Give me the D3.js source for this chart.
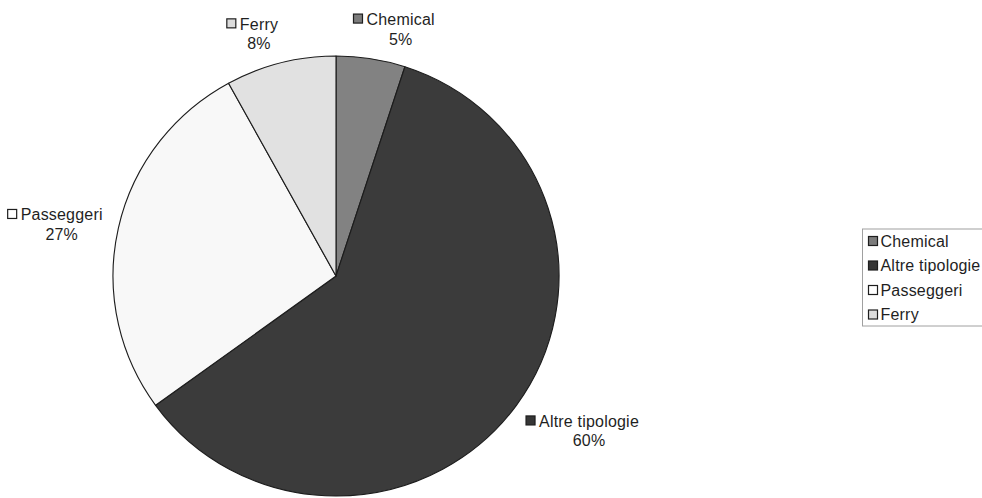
<!DOCTYPE html>
<html>
<head>
<meta charset="utf-8">
<script src="https://cdn.jsdelivr.net/npm/d3@7"></script>
<style>
  html, body { margin: 0; padding: 0; background: #ffffff; }
  svg { display: block; }
  text { font-family: "Liberation Sans", Arial, Helvetica, sans-serif; fill: #1f1f1f; }
</style>
</head>
<body>
<svg id="chart" width="982" height="498"></svg>
<script>
// Ship types and their share (%)
const categories = ["Chemical", "Altre tipologie", "Passeggeri", "Ferry"];
const shares = [5, 60, 27, 8];
const percentLabels = ["5%", "60%", "27%", "8%"];

const fills = {
  "Chemical": "#828282",
  "Altre tipologie": "#3b3b3b",
  "Passeggeri": "#f8f8f8",
  "Ferry": "#e1e1e1"
};
const swatchFills = {
  "Chemical": "#7c7c7c",
  "Altre tipologie": "#363636",
  "Passeggeri": "#ffffff",
  "Ferry": "#dcdcdc"
};

const svg = d3.select("#chart");
const cx = 336, cy = 276, radius = 220, stretchX = 223 / 220;
const fontSize = 16;

const data = categories.map((c, i) => ({ name: c, value: shares[i], pct: percentLabels[i] }));

const pie = d3.pie().value(d => d.value).sort(null).startAngle(0).endAngle(2 * Math.PI);
const arcs = pie(data);
const arc = d3.arc().innerRadius(0).outerRadius(radius);

const pieG = svg.append("g")
  .attr("transform", `translate(${cx},${cy}) scale(${stretchX},1)`);

pieG.selectAll("path.slice")
  .data(arcs)
  .join("path")
  .attr("class", "slice")
  .attr("d", arc)
  .attr("fill", d => fills[d.data.name])
  .attr("stroke", "#1c1c1c")
  .attr("stroke-width", 1.1)
  .attr("stroke-linejoin", "round");

// Data labels: name with swatch on the first line, percentage below
const labelArc = d3.arc().innerRadius(250).outerRadius(250);
const labelShift = {
  "Chemical": [25, 0],
  "Altre tipologie": [48, 8],
  "Passeggeri": [-27, 3],
  "Ferry": [-14, 0]
};
const swatch = 9, gap = 4, lineGap = 19.5;

arcs.forEach(a => {
  const [x0, y0] = labelArc.centroid(a);
  const s = labelShift[a.data.name];
  const lx = cx + x0 * stretchX + s[0];
  const ly = cy + y0 + s[1];
  const g = svg.append("g").attr("class", "data-label");
  const nameBase = ly - 4;
  const nameText = g.append("text")
    .attr("x", lx).attr("y", nameBase)
    .attr("text-anchor", "middle")
    .attr("font-size", fontSize)
    .attr("letter-spacing", "0.2px")
    .text(a.data.name);
  const tw = nameText.node().getComputedTextLength();
  g.append("rect")
    .attr("x", lx - tw / 2 - gap - swatch)
    .attr("y", nameBase - 11)
    .attr("width", swatch).attr("height", swatch)
    .attr("fill", swatchFills[a.data.name])
    .attr("stroke", "#1e1e1e").attr("stroke-width", 1.2);
  g.append("text")
    .attr("x", lx).attr("y", nameBase + lineGap)
    .attr("text-anchor", "middle")
    .attr("font-size", fontSize)
    .attr("letter-spacing", "0.2px")
    .text(a.data.pct);
});

// Legend
const legend = svg.append("g").attr("transform", "translate(862.5,229)");
legend.append("rect")
  .attr("x", 0).attr("y", 0)
  .attr("width", 140).attr("height", 97)
  .attr("fill", "#ffffff")
  .attr("stroke", "#a0a0a0").attr("stroke-width", 1);

const rowY = d3.scalePoint().domain(categories).range([12, 85.5]);
const rows = legend.selectAll("g.item")
  .data(categories)
  .join("g")
  .attr("class", "item")
  .attr("transform", d => `translate(6,${rowY(d)})`);
rows.append("rect")
  .attr("x", 0).attr("y", -4.5)
  .attr("width", 9).attr("height", 9)
  .attr("fill", d => swatchFills[d])
  .attr("stroke", "#1e1e1e").attr("stroke-width", 1.2);
rows.append("text")
  .attr("x", 12).attr("y", 5.5)
  .attr("font-size", fontSize)
  .attr("letter-spacing", "0.2px")
  .text(d => d);
</script>
</body>
</html>
